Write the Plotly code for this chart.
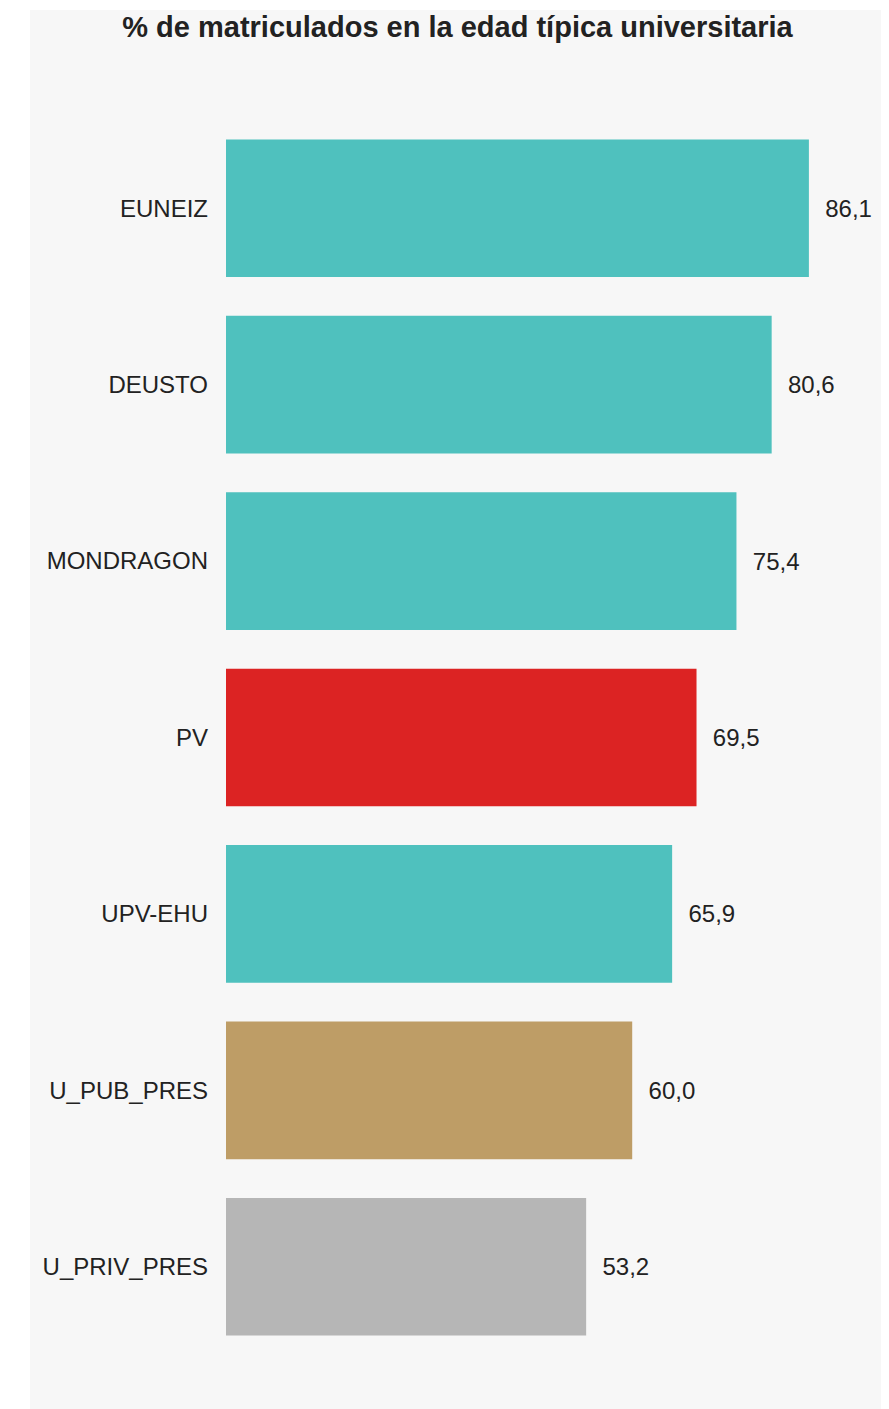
import plotly.graph_objects as go

categories = ["EUNEIZ", "DEUSTO", "MONDRAGON", "PV", "UPV-EHU", "U_PUB_PRES", "U_PRIV_PRES"]
values = [86.1, 80.6, 75.4, 69.5, 65.9, 60.0, 53.2]
bar_colors = ["#4FC1BE", "#4FC1BE", "#4FC1BE", "#DC2323", "#4FC1BE", "#BE9D66", "#B6B6B6"]

W, H = 889, 1409
OFF = 8  # page body margin
ml, mt = 226 - OFF, 139 - 19 - OFF
plot_bottom = 1355 - OFF
mb = H - plot_bottom
plot_right = 883 - OFF
mr = W - plot_right
pw = W - ml - mr
ph = H - mt - mb

FONT = "Liberation Sans, Arial, sans-serif"

fig = go.Figure(go.Bar(
    x=values,
    y=categories,
    orientation="h",
    marker=dict(color=bar_colors, line=dict(width=0)),
    texttemplate="\u00a0\u00a0%{x:.1f}",
    textposition="outside",
    textfont=dict(family=FONT, size=24, color="#222222"),
    cliponaxis=False,
    hoverinfo="skip",
))

fig.update_layout(
    width=W, height=H,
    margin=dict(l=ml, r=mr, t=mt, b=mb),
    paper_bgcolor="white",
    plot_bgcolor="#f7f7f7",
    separators=",.",
    bargap=0.22,
    showlegend=False,
    title=dict(
        text="<b>% de matriculados en la edad típica universitaria</b>",
        x=(457.5 - OFF) / W, xanchor="center", xref="container",
        y=1 - (27 - OFF) / H, yanchor="middle",
        font=dict(family=FONT, size=29, color="#222222"),
    ),
    xaxis=dict(range=[0, pw / 6.77], visible=False, showgrid=False, zeroline=False, fixedrange=True),
    yaxis=dict(
        autorange="reversed", showgrid=False, zeroline=False, showline=False,
        ticks="", ticklabelstandoff=17,
        tickfont=dict(family=FONT, size=24, color="#222222"),
    ),
    shapes=[dict(
        type="rect", xref="paper", yref="paper", layer="below",
        x0=(30 - OFF - ml) / pw, x1=(W - ml) / pw,
        y0=(plot_bottom - H) / ph, y1=(plot_bottom - (10 - OFF)) / ph,
        fillcolor="#f7f7f7", line=dict(width=0),
    )],
)

fig.write_html("out.html")
